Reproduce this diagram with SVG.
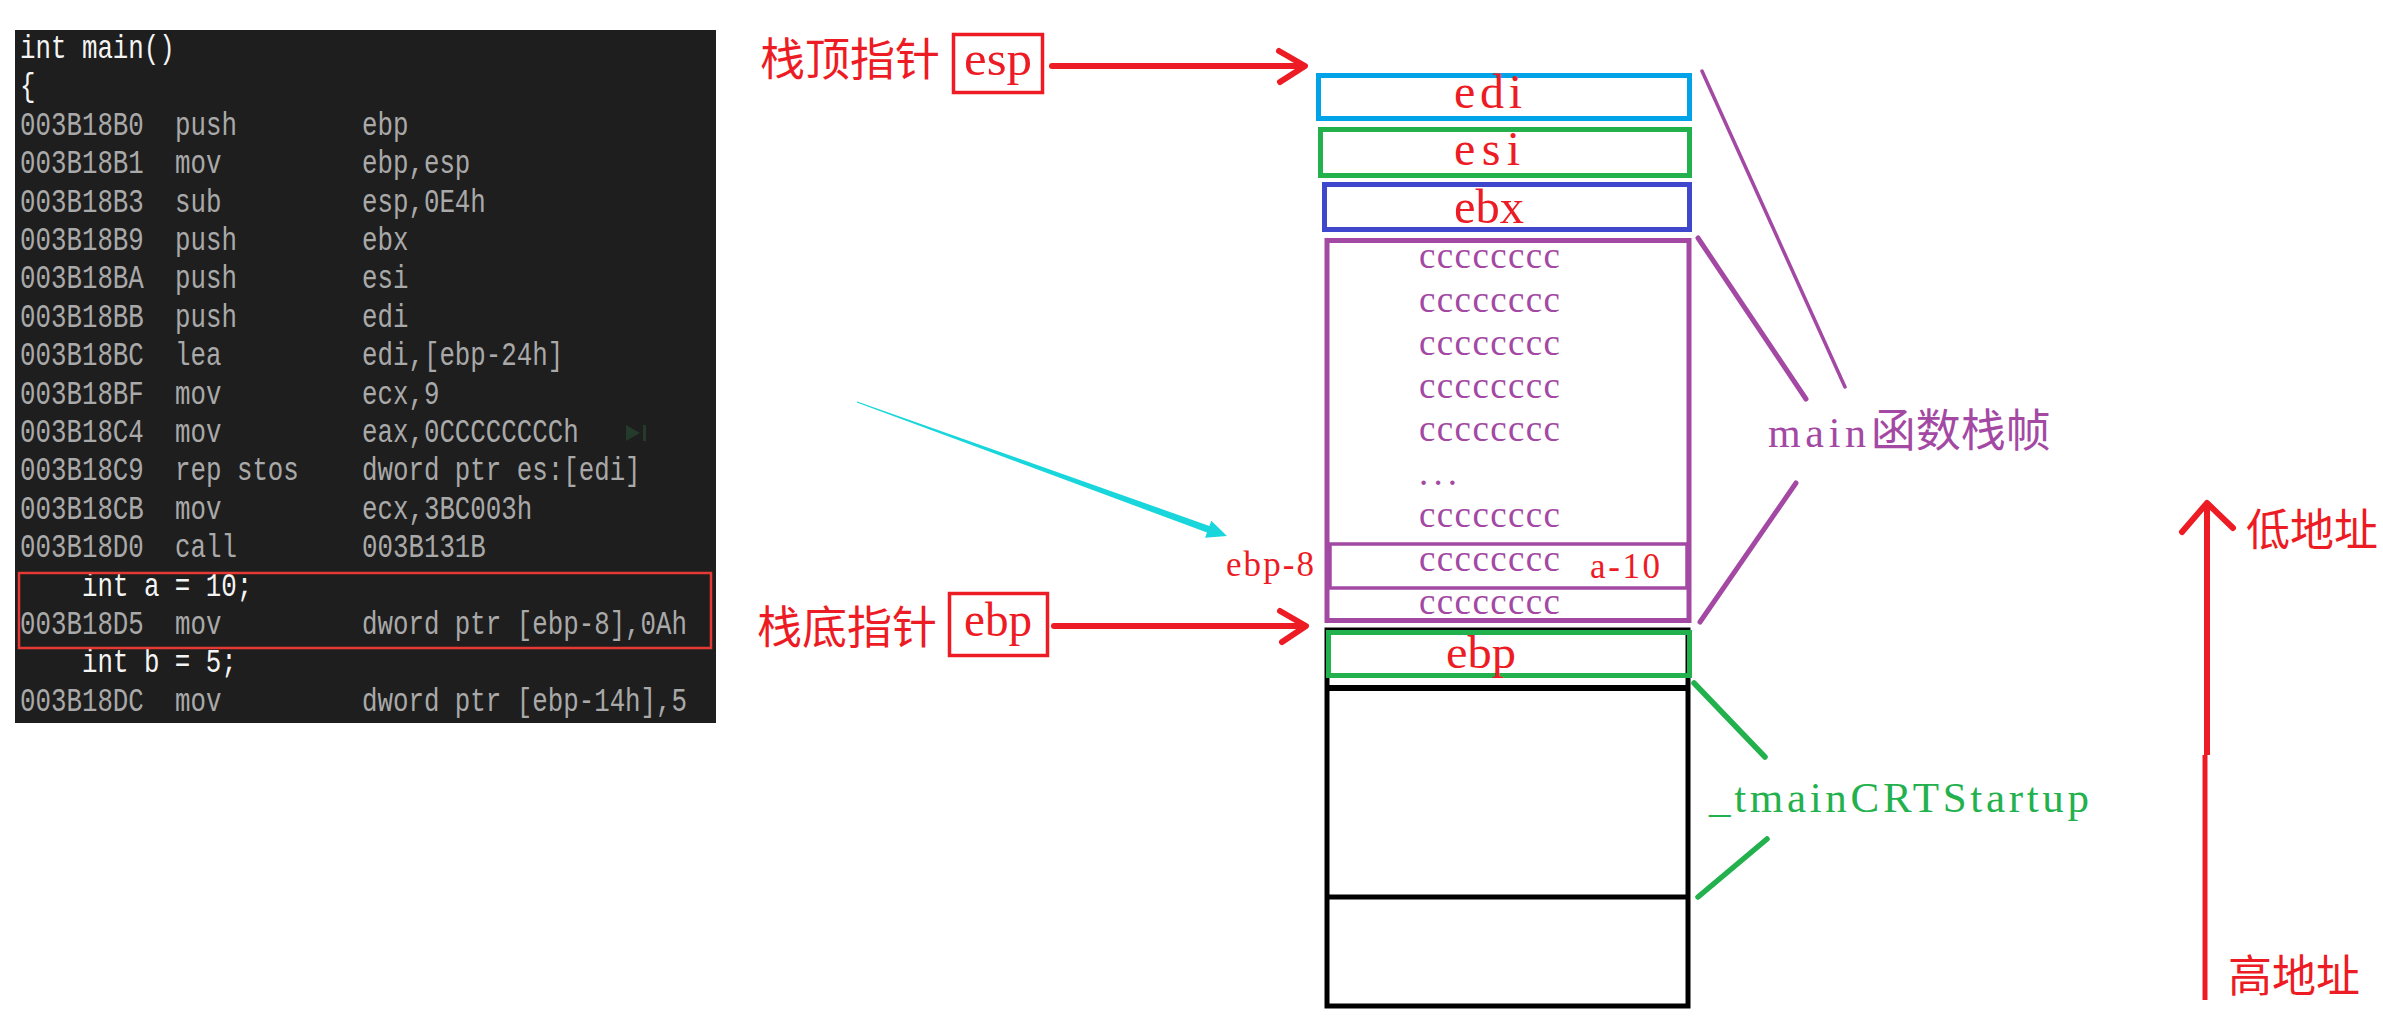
<svg xmlns="http://www.w3.org/2000/svg" width="2383" height="1019" viewBox="0 0 2383 1019">
<defs>
<style>
.code{font-family:"Liberation Mono",monospace;font-size:25.8px;}
.dis{fill:#a9a9a9}
.src{fill:#f4f4f4}
.cjk{font-family:"Noto Sans CJK SC",sans-serif;}
.ser{font-family:"Liberation Serif",serif;}
.red{fill:#ed1c24}
.pur{fill:#a349a4}
.cc{font-family:"Liberation Serif",serif;font-size:37px;fill:#a349a4}
.box{fill:none;stroke-width:5}
.rl{stroke:#ed1c24;fill:none;stroke-linecap:round;stroke-linejoin:round}
.pl{stroke:#a349a4;fill:none;stroke-linecap:round}
.gl{stroke:#22b14c;fill:none;stroke-linecap:round;stroke-width:5.5}
</style>
</defs>
<rect width="2383" height="1019" fill="#ffffff"/>

<g id="code-panel">
<rect x="15" y="30" width="701" height="693" fill="#1e1e1e"/>
<g class="code" transform="scale(1,1.28)">
<text class="src" x="20" y="45.31">int main()</text>
<text class="src" x="20" y="75.31">{</text>
<text class="dis" y="105.31"><tspan x="20">003B18B0</tspan><tspan x="175">push</tspan><tspan x="362">ebp</tspan></text>
<text class="dis" y="135.31"><tspan x="20">003B18B1</tspan><tspan x="175">mov</tspan><tspan x="362">ebp,esp</tspan></text>
<text class="dis" y="165.31"><tspan x="20">003B18B3</tspan><tspan x="175">sub</tspan><tspan x="362">esp,0E4h</tspan></text>
<text class="dis" y="195.31"><tspan x="20">003B18B9</tspan><tspan x="175">push</tspan><tspan x="362">ebx</tspan></text>
<text class="dis" y="225.31"><tspan x="20">003B18BA</tspan><tspan x="175">push</tspan><tspan x="362">esi</tspan></text>
<text class="dis" y="255.31"><tspan x="20">003B18BB</tspan><tspan x="175">push</tspan><tspan x="362">edi</tspan></text>
<text class="dis" y="285.31"><tspan x="20">003B18BC</tspan><tspan x="175">lea</tspan><tspan x="362">edi,[ebp-24h]</tspan></text>
<text class="dis" y="315.31"><tspan x="20">003B18BF</tspan><tspan x="175">mov</tspan><tspan x="362">ecx,9</tspan></text>
<text class="dis" y="345.31"><tspan x="20">003B18C4</tspan><tspan x="175">mov</tspan><tspan x="362">eax,0CCCCCCCCh</tspan></text>
<text class="dis" y="375.31"><tspan x="20">003B18C9</tspan><tspan x="175">rep stos</tspan><tspan x="362">dword ptr es:[edi]</tspan></text>
<text class="dis" y="405.31"><tspan x="20">003B18CB</tspan><tspan x="175">mov</tspan><tspan x="362">ecx,3BC003h</tspan></text>
<text class="dis" y="435.31"><tspan x="20">003B18D0</tspan><tspan x="175">call</tspan><tspan x="362">003B131B</tspan></text>
<text class="src" x="82" y="465.31">int a = 10;</text>
<text class="dis" y="495.31"><tspan x="20">003B18D5</tspan><tspan x="175">mov</tspan><tspan x="362">dword ptr [ebp-8],0Ah</tspan></text>
<text class="src" x="82" y="525.31">int b = 5;</text>
<text class="dis" y="555.31"><tspan x="20">003B18DC</tspan><tspan x="175">mov</tspan><tspan x="362">dword ptr [ebp-14h],5</tspan></text>
</g>
<rect x="19" y="573" width="692" height="75" fill="none" stroke="#e53935" stroke-width="2.5"/>
<polygon points="626,425 640,433 626,441" fill="#243a2a"/>
<rect x="643" y="425" width="3" height="16" fill="#243a2a"/>
</g>

<g id="esp-label">
<text class="cjk red" x="760" y="76" font-size="45">栈顶指针</text>
<rect x="953.5" y="34.5" width="89" height="58" fill="none" stroke="#ed1c24" stroke-width="3.5"/>
<text class="ser red" x="964" y="75" font-size="48" textLength="68" lengthAdjust="spacingAndGlyphs">esp</text>
</g>

<g id="ebp-label">
<text class="cjk red" x="757" y="644" font-size="45">栈底指针</text>
<rect x="949.5" y="593.5" width="98" height="62" fill="none" stroke="#ed1c24" stroke-width="3.5"/>
<text class="ser red" x="964" y="636" font-size="48" textLength="68" lengthAdjust="spacingAndGlyphs">ebp</text>
</g>

<g id="node-edi">
<rect x="1318.5" y="75.5" width="371" height="43" class="box" stroke="#00a2e8"/>
<text class="ser red" x="1454" y="108" font-size="48" textLength="68">edi</text>
</g>
<g id="node-esi">
<rect x="1320.5" y="129.5" width="369" height="46" class="box" stroke="#22b14c"/>
<text class="ser red" x="1454" y="165" font-size="48" textLength="66">esi</text>
</g>
<g id="node-ebx">
<rect x="1324.5" y="184.5" width="365" height="45" class="box" stroke="#3f48cc"/>
<text class="ser red" x="1454" y="223" font-size="48" textLength="70" lengthAdjust="spacingAndGlyphs">ebx</text>
</g>

<g id="node-locals">
<rect x="1327" y="240.5" width="362" height="380" class="box" stroke="#a349a4"/>
<rect x="1330" y="544" width="357" height="44" fill="none" stroke="#a349a4" stroke-width="3.5"/>
<text class="cc" x="1419" y="268" textLength="141">cccccccc</text>
<text class="cc" x="1419" y="312" textLength="141">cccccccc</text>
<text class="cc" x="1419" y="355" textLength="141">cccccccc</text>
<text class="cc" x="1419" y="398" textLength="141">cccccccc</text>
<text class="cc" x="1419" y="441" textLength="141">cccccccc</text>
<text class="cc" x="1419" y="485" textLength="38">...</text>
<text class="cc" x="1419" y="527" textLength="141">cccccccc</text>
<text class="cc" x="1419" y="571" textLength="141">cccccccc</text>
<text class="cc" x="1419" y="614" textLength="141">cccccccc</text>
<text class="ser red" x="1590" y="578" font-size="35" textLength="70">a-10</text>
</g>

<g id="ebp-8-label">
<text class="ser red" x="1226" y="576" font-size="35" textLength="88">ebp-8</text>
</g>

<g id="node-caller">
<rect x="1327" y="630" width="361" height="376" fill="none" stroke="#000" stroke-width="5"/>
<line x1="1325" y1="688" x2="1690" y2="688" stroke="#000" stroke-width="6"/>
<line x1="1325" y1="897" x2="1690" y2="897" stroke="#000" stroke-width="5"/>
</g>
<g id="node-saved-ebp">
<rect x="1328.5" y="632.5" width="361" height="43" class="box" stroke="#22b14c"/>
<text class="ser red" x="1446" y="668" font-size="46" textLength="70" lengthAdjust="spacingAndGlyphs">ebp</text>
</g>

<g id="label-main-frame">
<text x="1768" y="447" class="pur"><tspan font-family="Liberation Serif, serif" font-size="42" textLength="98">main</tspan><tspan font-family="Noto Sans CJK SC, sans-serif" font-size="45">函数栈帧</tspan></text>
</g>
<g id="label-tmain">
<text class="ser" x="1709" y="812" font-size="43" fill="#22b14c" textLength="380">_tmainCRTStartup</text>
</g>
<g id="label-low">
<text class="cjk red" x="2246" y="546" font-size="44">低地址</text>
</g>
<g id="label-high">
<text class="cjk red" x="2228" y="992" font-size="44">高地址</text>
</g>

<g id="connectors">
<line x1="1052" y1="66" x2="1303" y2="66" class="rl" stroke-width="6"/>
<polyline points="1279,51 1305,66 1280,82" class="rl" stroke-width="6"/>
<line x1="1054" y1="626" x2="1304" y2="626" class="rl" stroke-width="6"/>
<polyline points="1280,611 1306,626 1282,642" class="rl" stroke-width="6"/>
<polygon points="857.2,401.5 1209.4,525.9 1211.3,520.7 1227,536 1205.1,537.7 1207.0,532.5 856.8,402.5" fill="#19d6dc"/>
<line x1="1702" y1="71" x2="1845" y2="387" class="pl" stroke-width="3.5"/>
<line x1="1698" y1="238" x2="1806" y2="399" class="pl" stroke-width="5"/>
<line x1="1796" y1="483" x2="1700" y2="622" class="pl" stroke-width="5"/>
<line x1="1694" y1="683" x2="1765" y2="757" class="gl"/>
<line x1="1767" y1="839" x2="1698" y2="897" class="gl"/>
<line x1="2207" y1="504" x2="2207" y2="755" stroke="#ed1c24" stroke-width="6"/>
<line x1="2205" y1="755" x2="2205" y2="1000" stroke="#ed1c24" stroke-width="5"/>
<polyline points="2182,532 2207,503 2233,528" class="rl" stroke-width="6"/>
</g>
</svg>
